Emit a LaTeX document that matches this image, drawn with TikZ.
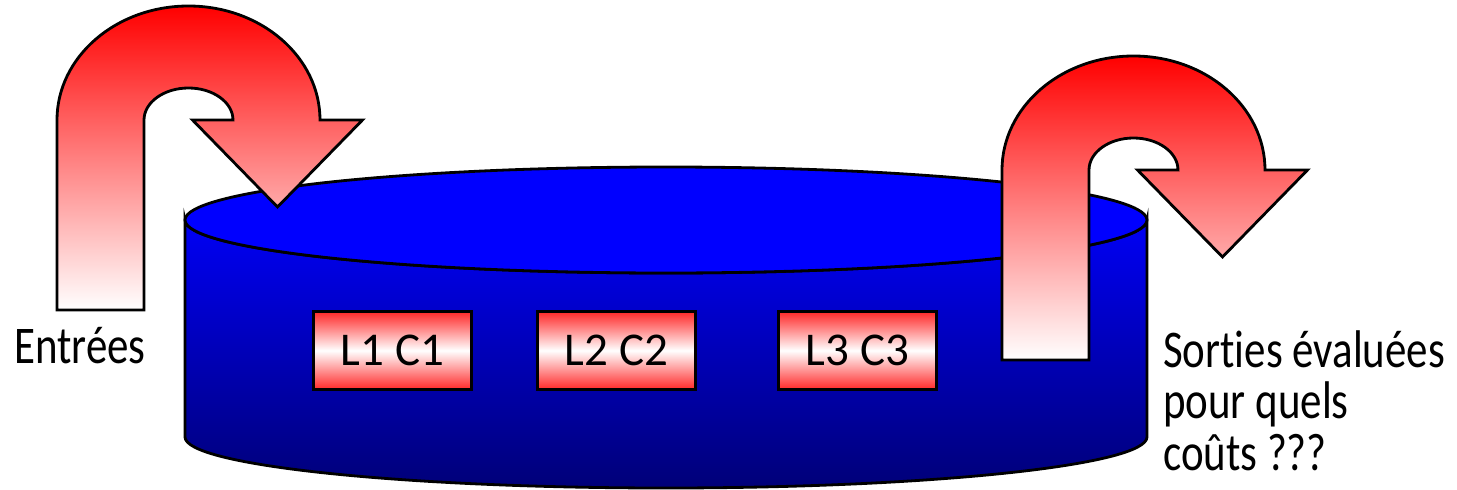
\documentclass[tikz,border=0pt]{standalone}
\usepackage{fontspec}
\setmainfont{Carlito}
\newfontfamily\labelfont[FakeStretch=0.81,Ligatures=NoCommon]{Carlito}
\definecolor{cylblue}{RGB}{0,0,245}
\definecolor{cyldark}{RGB}{0,0,120}
\definecolor{boxred}{RGB}{255,40,40}
\tikzset{
  outline/.style={draw=black, line width=2.8pt, line join=miter},
  uturnarrow/.style={outline, top color=red, bottom color=white},
  cellbox/.style={draw=black, line width=2.8pt, top color=boxred, bottom color=boxred, middle color=white,
    minimum width=158pt, minimum height=78pt, inner sep=0pt, font=\fontsize{47}{50}\selectfont},
  lbl/.style={inner sep=0pt, font=\labelfont\fontsize{53}{50}\selectfont}
}
\newcommand\uturnshape{%
  (-131.5,190) -- (-131.5,0) arc(180:360:131.5 and 114) -- (174,0) -- (89,87) -- (4,0) -- (44.5,0)
  arc(0:-180:44.5 and 32) -- (-44.5,190) -- cycle}
\begin{document}
\begin{tikzpicture}[x=1pt,y=-1pt]
\useasboundingbox (0,0) rectangle (1457,490);
% cylinder body
\path[outline, top color=cylblue, bottom color=cyldark]
  (185,220) -- (185,437) arc(180:0:481 and 51) -- (1147,220) arc(0:180:481 and 53) -- cycle;
% top face
\draw[outline, fill=blue] (666,220) ellipse [x radius=481, y radius=53];
% cells
\node[cellbox] (c1) at (392.5,350.5) {L1 C1};
\node[cellbox] (c2) at (616.5,350.5) {L2 C2};
\node[cellbox] (c3) at (857.5,350.5) {L3 C3};
% arrows
\begin{scope}[shift={(188.5,120)}]
  \path[uturnarrow] \uturnshape;
\end{scope}
\begin{scope}[shift={(1133.5,170)}]
  \path[uturnarrow] \uturnshape;
\end{scope}
% labels
\node[lbl, anchor=base west] (in) at (14,363) {Entrées};
\node[lbl, anchor=base west] (out) at (1163,367)
  {\begin{tabular}[t]{@{}l@{}}Sorties évaluées\\pour quels\\coûts ???\end{tabular}};
\end{tikzpicture}
\end{document}
